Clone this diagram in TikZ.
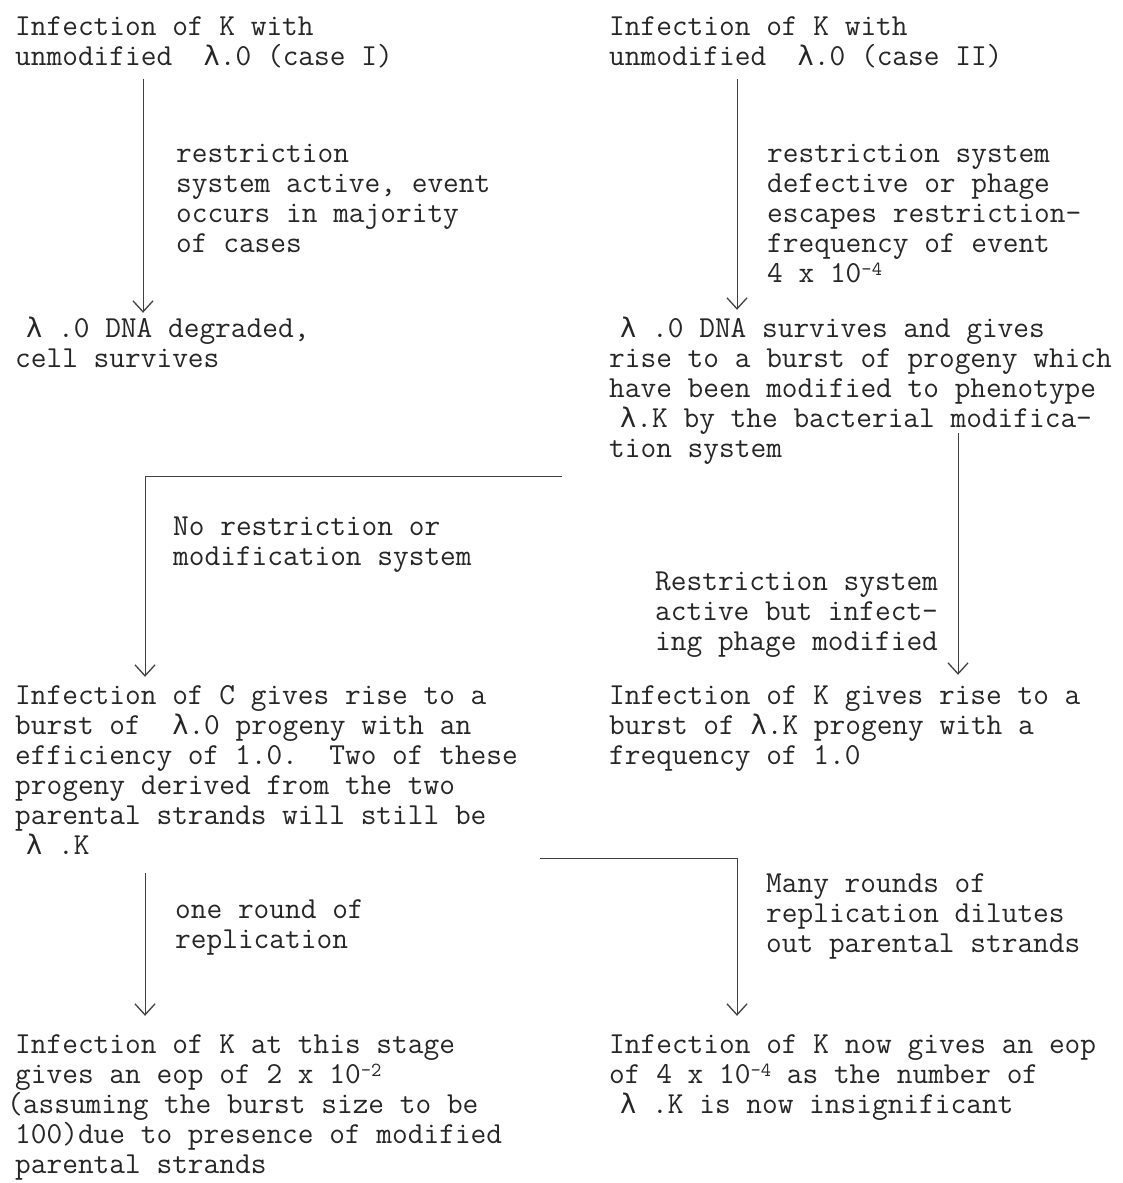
\documentclass[tikz,border=0pt]{standalone}
\usepackage{fontspec}
\newfontfamily\lamfont{DejaVu Sans Mono}
\usetikzlibrary{arrows.meta}
\newcommand\tsup[1]{\smash{\raisebox{0.2em}{\fontsize{20}{20}\selectfont #1}}}
\newcommand\blk[1]{\begin{tabular}[t]{@{}l@{}}#1\end{tabular}}
\newcommand\lamind{\hspace*{11pt}}
\newcommand\lam{{\lamfont\fontsize{27}{30}\selectfont λ}}
\tikzset{
  txt/.style={anchor=base west, inner sep=0pt, font=\fontsize{30.5}{30}\selectfont\ttfamily, text=black!85},
  conn/.style={draw=black!75, line width=1pt, -{Straight Barb[length=11pt,width=20pt,line width=1.3pt]}},
}
\frenchspacing
\begin{document}
\begin{tikzpicture}[x=1pt,y=-1pt]
\useasboundingbox (0,0) rectangle (1122,1183);
% top row
\node[txt] (A) at (15,35) {\blk{Infection of K with\\unmodified~ \lam.0 (case I)}};
\node[txt] (B) at (609,35) {\blk{Infection of K with\\unmodified~ \lam.0 (case II)}};
% labels of first arrows
\node[txt] (L1) at (176,162) {\blk{restriction\\system active, event\\occurs in majority\\of cases}};
\node[txt] (L2) at (767,162) {\blk{restriction system\\defective or phage\\escapes restriction-\\frequency of event\\4 x 10\tsup{-4}}};
% second row
\node[txt] (C) at (15,337) {\blk{\lamind\lam{} .0 DNA degraded,\\cell survives}};
\node[txt] (D) at (609,337) {\blk{\lamind\lam{} .0 DNA survives and gives\\rise to a burst of progeny which\\have been modified to phenotype\\\lamind\lam.K by the bacterial modifica-\\tion system}};
% middle labels
\node[txt] (L3) at (173,535) {\blk{No restriction or\\modification system}};
\node[txt] (L4) at (655,590) {\blk{Restriction system\\active but infect-\\ing phage modified}};
% third row
\node[txt] (E) at (15,704) {\blk{Infection of C gives rise to a\\burst of~ \lam.0 progeny with an\\efficiency of 1.0.~ Two of these\\progeny derived from the two\\parental strands will still be\\\lamind\lam{} .K}};
\node[txt] (F) at (609,704) {\blk{Infection of K gives rise to a\\burst of \lam.K progeny with a\\frequency of 1.0}};
% lower labels
\node[txt] (L5) at (175,918) {\blk{one round of\\replication}};
\node[txt] (L6) at (766,892) {\blk{Many rounds of\\replication dilutes\\out parental strands}};
% bottom row
\node[txt] (G) at (15,1053) {\blk{Infection of K at this stage\\gives an eop of 2 x 10\tsup{-2}\\\hspace*{-8pt}(assuming the burst size to be\\100)due to presence of modified\\parental strands}};
\node[txt] (H) at (609,1053) {\blk{Infection of K now gives an eop\\of 4 x 10\tsup{-4} as the number of\\\lamind\lam{} .K is now insignificant}};
% free ends of connectors
\coordinate (d1) at (562,476);
\coordinate (d2) at (958,433);
\coordinate (e2) at (540,858);
% connectors
\draw[conn, shorten <=5pt, shorten >=3pt] ([xshift=128]A.south west) -- ([xshift=128]C.north west);
\draw[conn, shorten <=5pt, shorten >=6pt] ([xshift=128]B.south west) -- ([xshift=128]D.north west);
\draw[conn, shorten >=6pt] (d1) -| ([xshift=130]E.north west);
\draw[conn, shorten >=8pt] (d2) -- (d2 |- F.north);
\draw[conn, shorten <=10pt, shorten >=16pt] ([xshift=130]E.south west) -- ([xshift=130]G.north west);
\draw[conn, shorten >=16pt] (e2) -| ([xshift=128]H.north west);
\end{tikzpicture}
\end{document}
